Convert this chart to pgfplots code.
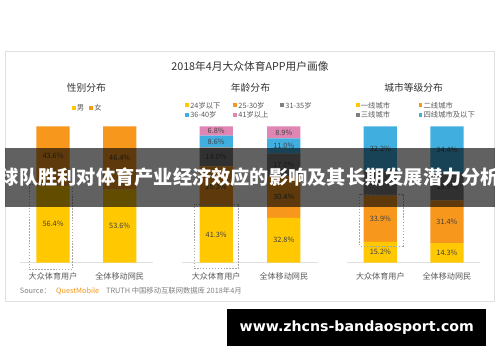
\documentclass[border=0pt]{standalone}
\usepackage{fontspec}
\usepackage{pgfplots}
\pgfplotsset{compat=1.18}
\setmainfont{Noto Sans CJK SC}
\newfontfamily\dv{DejaVu Sans}
\definecolor{cyel}{HTML}{FFC800}
\definecolor{corg}{HTML}{F7981D}
\definecolor{cgry}{HTML}{808080}
\definecolor{cblu}{HTML}{41AEE0}
\definecolor{cpnk}{HTML}{E086B4}
\definecolor{ctxt}{HTML}{404040}
\definecolor{clgd}{HTML}{595959}
\definecolor{ctit}{HTML}{333333}
\newcommand{\fs}[1]{\fontsize{#1}{#1}\selectfont}
\newcommand{\leg}[4]{\fill[#3] (#1-2,360-#2) rectangle (#1+2,364-#2);
  \node[anchor=west,inner sep=0,text=clgd,font=\fs{7.5}] at (#1+3,362-#2) {#4};}
\pgfplotsset{
  panel/.style={scale only axis, height=139bp, ymin=0, ymax=100,
    xmin=-0.5, xmax=1.5, clip=false},
  bars/.style={panel, ybar stacked, bar width=34bp,
    axis x line*=bottom, axis y line=none,
    x axis line style={draw=black!12, -},
    xtick={0,1}, xticklabels={大众体育用户,全体移动网民},
    xtick style={draw=none},
    xticklabel style={anchor=center, yshift=-14bp, font=\fs{8.3}, text=clgd},
    ytick=\empty},
  labs/.style={panel, hide axis},
  lbl/.style={only marks, mark=*, mark size=0pt, mark options={draw=none,fill=none},
    nodes near coords={\pgfplotspointmeta\%}, point meta=explicit symbolic,
    nodes near coords style={anchor=center, font=\fs{7.5}, text=ctxt, inner sep=0pt}},
}
\begin{document}
\begin{tikzpicture}[x=1bp,y=1bp]
\fill[white] (0,0) rectangle (500,362);
\draw[black!12, line width=0.8bp] (0.5,362-52) rectangle (499.5,362-308);
\node[text=ctit, font=\fs{11}] at (250,362-68) {2018年4月大众体育APP用户画像};
\node[text=ctit, font=\fs{10}] at (83,362-90) {性别分布};
\node[text=ctit, font=\fs{10}] at (250.5,362-90) {年龄分布};
\node[text=ctit, font=\fs{10}] at (417,362-90) {城市等级分布};
% legends
\leg{70}{110}{cyel}{男}
\leg{88}{110}{corg}{女}
\leg{186}{107.5}{cyel}{24岁以下}
\leg{235}{107.5}{corg}{25-30岁}
\leg{283}{107.5}{cgry}{31-35岁}
\leg{186}{117}{cblu}{36-40岁}
\leg{235}{117}{cpnk}{41岁以上}
\leg{360}{107.5}{cyel}{一线城市}
\leg{424}{107.5}{corg}{二线城市}
\leg{360}{117}{cgry}{三线城市}
\leg{424}{117}{cblu}{四线城市及以下}
% gender
\begin{axis}[bars, width=136bp, anchor=south west, at={(15bp,94bp)}]
\addplot[fill=cyel, draw=none] coordinates {(0,56.4) (1,53.6)};
\addplot[fill=corg, draw=none] coordinates {(0,43.6) (1,46.4)};
\end{axis}
\begin{axis}[labs, width=136bp, anchor=south west, at={(15bp,94bp)}]
\addplot[lbl] table[meta=l] {
x y l
0 28.2 56.4
1 26.8 53.6
0 78.2 43.6
1 76.8 46.4
};
\end{axis}
% age
\begin{axis}[bars, width=138bp, anchor=south west, at={(181bp,94bp)}]
\addplot[fill=cyel, draw=none] coordinates {(0,41.3) (1,32.8)};
\addplot[fill=corg, draw=none] coordinates {(0,29.3) (1,30.4)};
\addplot[fill=cgry, draw=none] coordinates {(0,14.0) (1,17.0)};
\addplot[fill=cblu, draw=none] coordinates {(0,8.6) (1,11.0)};
\addplot[fill=cpnk, draw=none] coordinates {(0,6.8) (1,8.9)};
\end{axis}
\begin{axis}[labs, width=138bp, anchor=south west, at={(181bp,94bp)}]
\addplot[lbl] table[meta=l] {
x y l
0 20.65 41.3
1 16.4 32.8
0 55.95 29.3
1 48.0 30.4
0 77.6 14.0
1 71.7 17.0
0 88.9 8.6
1 85.7 11.0
0 96.6 6.8
1 95.65 8.9
};
\end{axis}
% city
\begin{axis}[bars, width=136bp, anchor=south west, at={(349bp,94bp)}]
\addplot[fill=cyel, draw=none] coordinates {(0,15.2) (1,14.3)};
\addplot[fill=corg, draw=none] coordinates {(0,33.9) (1,31.4)};
\addplot[fill=cgry, draw=none] coordinates {(0,18.7) (1,19.9)};
\addplot[fill=cblu, draw=none] coordinates {(0,32.2) (1,34.4)};
\end{axis}
\begin{axis}[labs, width=136bp, anchor=south west, at={(349bp,94bp)}]
\addplot[lbl] table[meta=l] {
x y l
0 7.6 15.2
1 7.15 14.3
0 32.15 33.9
1 30.0 31.4
0 58.45 18.7
1 55.65 19.9
0 83.9 32.2
1 82.8 34.4
};
\end{axis}
% dashed highlight boxes
\draw[black!35, dash pattern=on 1.5bp off 1.5bp, line width=0.6bp] (25,362-188) rectangle (69,362-275);
\draw[black!35, dash pattern=on 1.5bp off 1.5bp, line width=0.6bp] (193,362-208) rectangle (238,362-274);
\draw[black!35, dash pattern=on 1.5bp off 1.5bp, line width=0.6bp] (362,362-198) rectangle (406,362-251);
% source
\node[anchor=west, inner sep=0, text=black!50, font=\fs{7.5}] at (15,362-297) {Source：};
\node[anchor=west, inner sep=0, text=corg, font=\fs{7.5}] at (52,362-297) {QuestMobile};
\node[anchor=west, inner sep=0, text=black!50, font=\fs{7.5}] at (103,362-297) {TRUTH 中国移动互联网数据库 2018年4月};
% banner
\fill[black, fill opacity=0.62] (0,362-151) rectangle (500,362-211);
\node[text=white, font=\fs{19.7}\bfseries, inner sep=0] at (250,362-181) {球队胜利对体育产业经济效应的影响及其长期发展潜力分析};
% bottom box
\fill[black] (227,362-353) rectangle (491,362-315);
\node[text=white, font=\dv\bfseries\fs{14.5}, inner sep=0] at (359,362-334.5) {www.zhcns-bandaosport.com};
\end{tikzpicture}
\end{document}
